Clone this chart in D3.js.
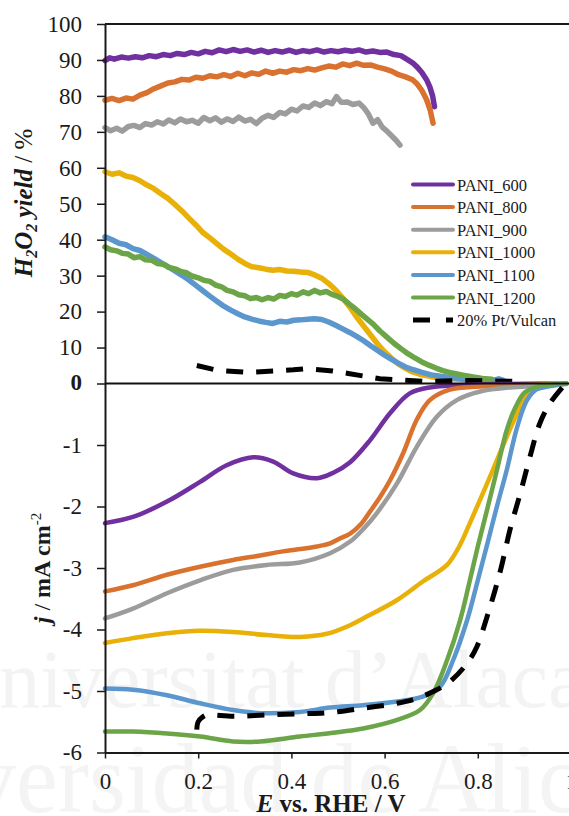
<!DOCTYPE html>
<html>
<head>
<meta charset="utf-8">
<script src="https://cdn.jsdelivr.net/npm/d3@7"></script>
<style>
  html, body { margin: 0; padding: 0; background: #fff; }
  svg { display: block; }
  text { font-family: "Liberation Serif", "Times New Roman", serif; fill: #1a1a1a; }
</style>
</head>
<body>
<svg id="chart" width="569" height="816"></svg>
<script>
// ---- Series names and colours ----
const seriesNames = ["PANI_600", "PANI_800", "PANI_900", "PANI_1000", "PANI_1100", "PANI_1200", "20% Pt/Vulcan"];
const seriesColors = ["#7030A0", "#DA722F", "#9C9C9C", "#E9B008", "#5B97CD", "#6BA548", "#000000"];

// ---- Tick labels ----
const yieldTicks = [0, 10, 20, 30, 40, 50, 60, 70, 80, 90, 100];
const currentTicks = [-6, -5, -4, -3, -2, -1, 0];
const potentialTicks = [0, 0.2, 0.4, 0.6, 0.8, 1];

// ---- H2O2 yield (%) vs E (V) ----
const yield600 = [[0,89.8],[0.01,90.6],[0.02,90.2],[0.035,90.8],[0.05,90.5],[0.065,90.9],[0.08,90.6],[0.095,91.2],[0.11,90.9],[0.125,91.5],[0.14,91.2],[0.155,91.8],[0.17,91.5],[0.185,92.1],[0.2,91.7],[0.215,92.4],[0.23,92.0],[0.245,92.8],[0.26,92.3],[0.275,92.9],[0.29,92.4],[0.305,92.8],[0.32,92.2],[0.335,92.7],[0.35,92.1],[0.365,92.6],[0.38,92.2],[0.395,92.7],[0.41,92.1],[0.425,92.6],[0.44,92.3],[0.455,92.8],[0.47,92.2],[0.485,92.6],[0.5,92.3],[0.515,92.7],[0.53,92.4],[0.545,92.8],[0.56,92.2],[0.575,92.5],[0.59,92.1],[0.605,92.2],[0.62,91.5],[0.635,91.2],[0.65,90.0],[0.66,89.2],[0.67,88.0],[0.68,86.5],[0.69,84.5],[0.697,82.5],[0.703,80.0],[0.707,77.0]];
const yield800 = [[0,78.8],[0.015,79.3],[0.03,78.7],[0.045,79.4],[0.06,79.1],[0.075,80.2],[0.09,80.9],[0.105,82.0],[0.12,82.8],[0.135,83.6],[0.15,83.9],[0.165,84.6],[0.18,84.4],[0.195,85.2],[0.21,84.9],[0.225,85.6],[0.24,85.3],[0.255,85.9],[0.27,85.4],[0.285,86.3],[0.3,85.6],[0.315,86.4],[0.33,86.0],[0.345,86.9],[0.36,86.3],[0.375,86.9],[0.39,86.6],[0.405,87.3],[0.42,87.0],[0.435,87.6],[0.45,87.2],[0.465,87.8],[0.48,88.3],[0.495,88.0],[0.51,88.9],[0.525,88.4],[0.54,89.1],[0.555,88.5],[0.57,88.6],[0.585,88.0],[0.6,87.5],[0.615,86.9],[0.63,85.9],[0.645,85.3],[0.66,84.5],[0.67,83.3],[0.68,81.5],[0.69,79.0],[0.698,76.0],[0.704,72.4]];
const yield900 = [[0,71.2],[0.012,70.3],[0.025,71.0],[0.037,70.2],[0.05,71.5],[0.062,71.8],[0.075,71.2],[0.087,72.3],[0.1,71.9],[0.112,72.8],[0.125,72.2],[0.137,73.3],[0.15,72.5],[0.162,73.6],[0.175,72.8],[0.187,73.2],[0.2,72.4],[0.212,74.0],[0.225,73.1],[0.237,73.9],[0.25,72.7],[0.262,73.6],[0.275,72.9],[0.287,74.1],[0.3,73.0],[0.312,73.5],[0.325,72.3],[0.337,73.8],[0.35,74.6],[0.362,74.0],[0.375,75.4],[0.387,75.0],[0.4,76.3],[0.412,75.8],[0.425,77.2],[0.437,76.8],[0.45,78.0],[0.462,77.3],[0.475,78.4],[0.487,77.8],[0.497,79.8],[0.507,78.2],[0.52,78.3],[0.532,77.6],[0.545,78.0],[0.555,76.8],[0.565,75.0],[0.575,72.4],[0.585,73.4],[0.595,71.3],[0.605,70.2],[0.615,68.9],[0.625,67.6],[0.633,66.3]];
const yield1000 = [[0,58.9],[0.015,58.2],[0.03,58.6],[0.045,57.7],[0.06,57.3],[0.075,56.4],[0.09,55.2],[0.105,54.2],[0.12,52.8],[0.135,51.5],[0.15,49.8],[0.165,48.0],[0.18,46.0],[0.195,44.1],[0.21,42.0],[0.225,40.5],[0.24,38.9],[0.255,37.3],[0.27,36.0],[0.285,34.6],[0.3,33.4],[0.315,32.5],[0.33,32.2],[0.345,31.8],[0.36,31.5],[0.375,31.7],[0.39,31.3],[0.405,31.2],[0.42,31.0],[0.435,30.9],[0.45,30.2],[0.465,29.3],[0.48,27.8],[0.495,26.0],[0.51,23.8],[0.525,21.3],[0.54,18.5],[0.555,16.0],[0.57,13.5],[0.585,11.0],[0.6,8.8],[0.615,7.0],[0.63,5.4],[0.645,4.2],[0.66,3.2],[0.68,2.4],[0.7,1.9],[0.72,1.5],[0.74,1.3],[0.77,1.1],[0.8,1.0],[0.833,1.0]];
const yield1100 = [[0,40.8],[0.015,40.0],[0.03,39.0],[0.045,38.6],[0.06,37.5],[0.075,37.0],[0.09,35.9],[0.105,34.8],[0.12,33.6],[0.135,32.5],[0.15,31.3],[0.165,30.1],[0.18,28.8],[0.195,27.3],[0.21,25.8],[0.225,24.3],[0.24,22.9],[0.255,21.5],[0.27,20.4],[0.285,19.4],[0.3,18.5],[0.315,17.9],[0.33,17.4],[0.345,17.0],[0.36,16.7],[0.375,17.3],[0.39,17.1],[0.405,17.6],[0.42,17.7],[0.435,17.9],[0.45,18.0],[0.465,17.8],[0.48,17.1],[0.495,16.2],[0.51,15.2],[0.525,14.2],[0.54,13.1],[0.555,11.9],[0.57,10.5],[0.585,9.2],[0.6,7.9],[0.615,6.7],[0.63,5.6],[0.645,4.6],[0.66,3.9],[0.68,3.1],[0.7,2.4],[0.72,2.0],[0.74,1.7],[0.77,1.2],[0.8,0.9],[0.83,0.8],[0.845,1.3],[0.855,0.9]];
const yield1200 = [[0,38.0],[0.012,37.2],[0.025,36.9],[0.037,36.2],[0.05,36.0],[0.062,35.0],[0.075,35.3],[0.087,34.4],[0.1,34.3],[0.112,33.4],[0.125,33.2],[0.137,32.3],[0.15,31.9],[0.162,31.2],[0.175,30.8],[0.187,29.9],[0.2,29.4],[0.212,28.7],[0.225,28.4],[0.237,27.4],[0.25,26.9],[0.262,25.9],[0.275,25.5],[0.287,24.7],[0.3,24.4],[0.312,23.6],[0.325,23.9],[0.337,23.3],[0.35,23.9],[0.362,23.5],[0.375,24.5],[0.387,24.2],[0.4,25.0],[0.412,24.6],[0.425,25.5],[0.437,25.0],[0.45,25.9],[0.462,25.2],[0.475,25.6],[0.487,24.8],[0.5,24.2],[0.512,23.4],[0.525,22.0],[0.537,20.8],[0.55,19.3],[0.562,18.0],[0.575,16.6],[0.59,14.6],[0.605,12.9],[0.62,11.2],[0.635,9.7],[0.65,8.3],[0.665,7.1],[0.68,6.0],[0.695,5.1],[0.71,4.3],[0.725,3.6],[0.745,2.9],[0.765,2.4],[0.79,1.8],[0.81,1.4],[0.83,1.2]];
const yieldPt = [[0.197,5.0],[0.243,3.6],[0.311,3.1],[0.404,3.8],[0.429,4.1],[0.489,3.5],[0.522,2.8],[0.59,1.3],[0.683,0.6],[0.776,0.8],[0.89,0.6]];

// ---- Disk current density j (mA cm-2) vs E (V) ----
const current600 = [[0,-2.27],[0.06,-2.17],[0.133,-1.92],[0.204,-1.6],[0.261,-1.33],[0.318,-1.2],[0.361,-1.27],[0.404,-1.46],[0.455,-1.54],[0.49,-1.45],[0.526,-1.28],[0.569,-0.92],[0.612,-0.48],[0.654,-0.16],[0.7,-0.06],[0.76,-0.03],[0.85,-0.01],[0.97,0]];
const current800 = [[0,-3.38],[0.06,-3.28],[0.133,-3.11],[0.204,-2.98],[0.275,-2.87],[0.33,-2.8],[0.382,-2.73],[0.455,-2.65],[0.483,-2.6],[0.504,-2.52],[0.526,-2.44],[0.55,-2.28],[0.569,-2.08],[0.59,-1.85],[0.612,-1.57],[0.64,-1.13],[0.669,-0.59],[0.697,-0.27],[0.74,-0.1],[0.805,-0.05],[0.912,-0.02],[0.99,0]];
const current900 = [[0,-3.82],[0.06,-3.66],[0.133,-3.41],[0.204,-3.2],[0.275,-3.03],[0.347,-2.95],[0.418,-2.91],[0.483,-2.76],[0.526,-2.57],[0.555,-2.36],[0.583,-2.11],[0.627,-1.62],[0.669,-1.03],[0.712,-0.54],[0.755,-0.27],[0.805,-0.13],[0.876,-0.06],[0.95,-0.03],[0.99,-0.01]];
const current1000 = [[0,-4.22],[0.06,-4.14],[0.133,-4.06],[0.204,-4.02],[0.275,-4.04],[0.347,-4.09],[0.418,-4.12],[0.476,-4.07],[0.526,-3.93],[0.554,-3.82],[0.627,-3.52],[0.682,-3.22],[0.734,-2.95],[0.76,-2.65],[0.783,-2.27],[0.826,-1.52],[0.862,-0.87],[0.891,-0.38],[0.912,-0.11],[0.94,-0.02],[0.99,0]];
const current1100 = [[0,-4.96],[0.06,-4.98],[0.133,-5.07],[0.204,-5.2],[0.275,-5.31],[0.333,-5.36],[0.418,-5.34],[0.483,-5.27],[0.554,-5.23],[0.627,-5.17],[0.682,-5.09],[0.719,-4.93],[0.747,-4.5],[0.777,-3.85],[0.8,-3.2],[0.82,-2.62],[0.841,-2.0],[0.862,-1.41],[0.884,-0.72],[0.905,-0.28],[0.925,-0.1],[0.95,-0.05],[0.99,0]];
const current1200 = [[0,-5.66],[0.06,-5.66],[0.133,-5.69],[0.204,-5.74],[0.275,-5.82],[0.333,-5.82],[0.418,-5.74],[0.489,-5.68],[0.554,-5.61],[0.627,-5.47],[0.676,-5.31],[0.704,-5.04],[0.734,-4.5],[0.762,-3.85],[0.783,-3.2],[0.8,-2.65],[0.82,-2.05],[0.841,-1.41],[0.862,-0.76],[0.88,-0.4],[0.9,-0.15],[0.927,-0.05],[0.99,0]];
const currentPt = [[0.197,-5.63],[0.2,-5.5],[0.21,-5.42],[0.218,-5.39],[0.275,-5.41],[0.347,-5.39],[0.418,-5.37],[0.483,-5.35],[0.554,-5.28],[0.627,-5.2],[0.669,-5.12],[0.712,-4.98],[0.74,-4.85],[0.777,-4.55],[0.798,-4.28],[0.82,-3.79],[0.848,-3.06],[0.869,-2.38],[0.891,-1.79],[0.912,-1.19],[0.933,-0.65],[0.955,-0.32],[0.983,-0.05]];

const yieldSeries = [yield600, yield800, yield900, yield1000, yield1100, yield1200, yieldPt];
const currentSeries = [current600, current800, current900, current1000, current1100, current1200, currentPt];

// ---- Layout ----
const svg = d3.select("#chart");
const x = d3.scaleLinear().domain([0, 1]).range([105, 571]);
const yTop = d3.scaleLinear().domain([0, 100]).range([383.5, 24]);
const yBot = d3.scaleLinear().domain([-6, 0]).range([752.5, 383.5]);
const dashPattern = "17,13";

// faint institutional watermark behind the plot
const wm = svg.append("g").style("font-family", "'Liberation Serif', serif");
wm.append("text").attr("transform", "translate(-60,707)")
  .style("font-size", "82px").style("fill", "#f3f3f3").text("Universitat d\u2019Alacant");
wm.append("text").attr("transform", "translate(-172,812) scale(0.94,1)")
  .style("font-size", "100px").style("fill", "#f4f4f4").text("Universidad de Alicante");

// ---- Curves ----
const topLine = d3.line().x(d => x(d[0])).y(d => yTop(d[1])).curve(d3.curveLinear);
const botLine = d3.line().x(d => x(d[0])).y(d => yBot(d[1])).curve(d3.curveCatmullRom.alpha(0.5));

const plot = svg.append("g");
yieldSeries.forEach((s, i) => {
  plot.append("path").datum(s).attr("d", topLine)
    .attr("fill", "none").attr("stroke", seriesColors[i])
    .attr("stroke-width", i === 6 ? 5 : 5.5)
    .attr("stroke-linejoin", "round").attr("stroke-linecap", i === 6 ? "butt" : "round")
    .attr("stroke-dasharray", i === 6 ? dashPattern : null);
});
currentSeries.forEach((s, i) => {
  plot.append("path").datum(s).attr("d", botLine)
    .attr("fill", "none").attr("stroke", seriesColors[i])
    .attr("stroke-width", i === 6 ? 5 : 4.5)
    .attr("stroke-linejoin", "round").attr("stroke-linecap", i === 6 ? "butt" : "round")
    .attr("stroke-dasharray", i === 6 ? dashPattern : null);
});

// ---- Axes ----
const axisStyle = g => {
  g.attr("font-family", null);
  g.selectAll("path.domain").attr("stroke", "#1a1a1a").attr("stroke-width", 2);
  g.selectAll(".tick line").attr("stroke", "#1a1a1a").attr("stroke-width", 1.5);
  g.selectAll(".tick text").style("font-family", "'Liberation Serif', serif")
    .style("font-size", "23px").attr("fill", "#1a1a1a");
};

svg.append("g").attr("transform", "translate(105,0)")
  .call(d3.axisLeft(yTop).tickValues(yieldTicks).tickSize(8).tickSizeOuter(0).tickPadding(15).tickFormat(d3.format("d")))
  .call(axisStyle)
  .call(g => g.selectAll(".tick").filter(d => d === 0).select("text").style("font-weight", "bold").attr("dy", "0.28em"));

svg.append("g").attr("transform", "translate(105,0)")
  .call(d3.axisLeft(yBot).tickValues(currentTicks.filter(v => v !== 0)).tickSize(8).tickSizeOuter(0).tickPadding(15)
    .tickFormat(d => String(d)))
  .call(axisStyle);

svg.append("g").attr("transform", "translate(0,752.5)")
  .call(d3.axisBottom(x).tickValues(potentialTicks).tickSize(6).tickSizeOuter(0).tickPadding(14)
    .tickFormat(d => d === 0 ? "0" : d === 1 ? "1" : d3.format(".1f")(d)))
  .call(axisStyle);

// plot frame top edge and the shared zero line
svg.append("line").attr("x1", 105).attr("x2", 571).attr("y1", yTop(100)).attr("y2", yTop(100))
  .attr("stroke", "#1a1a1a").attr("stroke-width", 2);
svg.append("line").attr("x1", 105).attr("x2", 571).attr("y1", yTop(0)).attr("y2", yTop(0))
  .attr("stroke", "#111").attr("stroke-width", 2.2);

// ---- Axis titles ----
const tTop = svg.append("text").attr("transform", "translate(32,203) rotate(-90)")
  .attr("text-anchor", "middle").style("font-size", "25px");
tTop.append("tspan").style("font-weight", "bold").style("font-style", "italic").text("H");
tTop.append("tspan").style("font-weight", "bold").style("font-style", "italic").style("font-size", "16px").attr("dy", 5).text("2");
tTop.append("tspan").style("font-weight", "bold").style("font-style", "italic").attr("dy", -5).text("O");
tTop.append("tspan").style("font-weight", "bold").style("font-style", "italic").style("font-size", "16px").attr("dy", 5).text("2");
tTop.append("tspan").style("font-weight", "bold").style("font-style", "italic").attr("dy", -5).text(" yield");
tTop.append("tspan").text(" / %");

const tBot = svg.append("text").attr("transform", "translate(50,568) rotate(-90)")
  .attr("text-anchor", "middle").style("font-size", "24px");
tBot.append("tspan").style("font-weight", "bold").style("font-style", "italic").text("j");
tBot.append("tspan").text(" / ");
tBot.append("tspan").style("font-weight", "bold").text("mA cm");
tBot.append("tspan").style("font-size", "15px").attr("dy", -9).text("-2");

const tX = svg.append("text").attr("x", 331).attr("y", 812).attr("text-anchor", "middle")
  .style("font-size", "25px").style("font-weight", "bold");
tX.append("tspan").style("font-style", "italic").text("E");
tX.append("tspan").text(" vs. RHE / V");

// ---- Legend ----
const legend = svg.append("g").attr("transform", "translate(413,184.5)");
seriesNames.forEach((name, i) => {
  const row = legend.append("g").attr("transform", `translate(0,${i * 22.6})`);
  row.append("line").attr("x1", 0).attr("x2", 40).attr("y1", 0).attr("y2", 0)
    .attr("stroke", seriesColors[i]).attr("stroke-width", i === 6 ? 5 : 4)
    .attr("stroke-linecap", i === 6 ? "butt" : "round")
    .attr("stroke-dasharray", i === 6 ? "17,16" : null);
  row.append("text").attr("x", 44).attr("y", 6).style("font-size", "16.5px").text(name);
});
</script>
</body>
</html>
